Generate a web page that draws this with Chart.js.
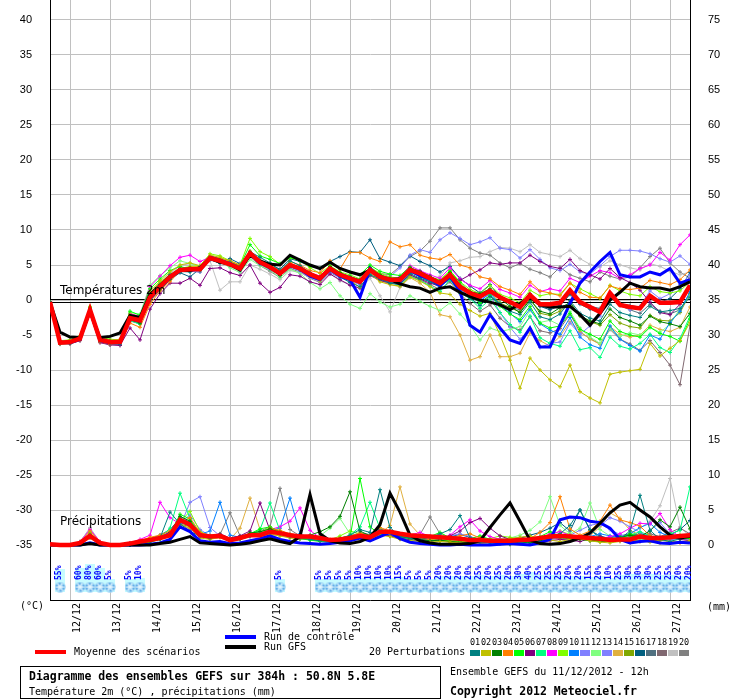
<!DOCTYPE html>
<html lang="fr">
<head>
<meta charset="UTF-8">
<title>Diagramme des ensembles GEFS</title>
<script src="https://cdn.jsdelivr.net/npm/chart.js"></script>
<style>
  html, body { margin: 0; padding: 0; background: #fff; }
  canvas { display: block; }
</style>
</head>
<body>
<canvas id="gefsChart" width="740" height="700"></canvas>
<script>
// Echéances en heures depuis le run du 11/12/2012 12h
var heures = [0,6,12,18,24,30,36,42,48,54,60,66,72,78,84,90,96,102,108,114,120,126,132,138,144,150,156,162,168,174,180,186,192,198,204,210,216,222,228,234,240,246,252,258,264,270,276,282,288,294,300,306,312,318,324,330,336,342,348,354,360,366,372,378,384];

// Jours (00h) et leurs étiquettes
var joursHeures = [12,36,60,84,108,132,156,180,204,228,252,276,300,324,348,372];
var joursLabels = ['12/12','13/12','14/12','15/12','16/12','17/12','18/12','19/12','20/12','21/12','22/12','23/12','24/12','25/12','26/12','27/12'];

// Graduations
var ticksTemp = [-35,-30,-25,-20,-15,-10,-5,0,5,10,15,20,25,30,35,40];
var ticksPrecip = [0,5,10,15,20,25,30,35,40,45,50,55,60,65,70,75];

// Probabilité de neige (%)
var probaNeige = [null,55,null,60,80,60,5,null,5,10, null,null,null,null,null,null,null,null,null,null,
  null,null,null,5,null,null,null,5,5,5, 5,10,10,10,10,15,5,5,5,20,
  20,20,20,25,20,25,20,30,40,25, 25,25,20,20,15,20,10,25,30,30, 30,25,25,20,20];

// Moyenne des scénarios
var moyTemp = [-0.3,-6.1,-6.0,-5.5,-1.4,-5.7,-6.0,-6.0,-2.6,-2.9,
  0.4,1.9,3.3,4.3,4.4,4.4,6.0,5.6,5.1,4.5,6.7,5.4,4.7,3.8,5.0,
  4.5,3.7,3.1,4.5,3.6,3.1,2.6,4.3,3.3,2.9,2.9,4.3,3.8,3.1,2.4,3.6,
  1.9,1.0,0.5,1.3,0.4,-0.3,-1.0,0.7,-0.6,-0.6,-0.4,1.4,-0.3,-1.0,-1.7,1.0,-0.7,-1.0,-1.2,0.6,-0.4,-0.4,-0.3,2.1];
var moyPrecip = [0.1,0,0,0.3,1.3,0.3,0,0,0.2,0.5,
  0.7,1.0,1.4,3.6,2.9,1.4,1.2,1.3,0.7,1.0,1.4,1.4,1.9,1.7,1.4,
  1.2,1.2,1.0,0.7,0.8,1.0,1.3,1.1,1.9,1.9,1.6,1.4,1.3,1.2,1.1,1.0,
  0.9,0.7,0.7,0.6,0.6,0.6,0.7,0.8,1.0,1.2,1.3,1.2,1.1,1.0,0.9,0.7,0.8,0.8,1.2,1.0,1.0,1.1,1.3,1.4];

// Run de contrôle
var ctrlTemp = [-0.3,-6.0,-6.1,-5.6,-1.5,-5.8,-6.1,-6.1,-2.7,-3.0,
  0.3,1.8,3.2,4.2,4.3,4.5,6.1,5.7,5.2,4.4,6.6,5.3,4.6,3.7,4.9,
  4.4,3.4,2.9,4.4,3.4,2.9,0.4,4.5,3.2,2.8,2.7,4.2,3.5,3.0,2.1,3.4,
  1.2,-3.6,-4.6,-2.1,-4.0,-5.7,-6.2,-4.0,-6.7,-6.7,-3.6,-0.5,2.4,4.0,5.5,6.8,3.6,3.3,3.3,4.0,3.6,4.5,2.4,2.9];
var ctrlPrecip = [0,0,0,0,0.3,0,0,0,0,0,
  0.1,0.3,0.8,2.6,1.9,0.6,0.4,0.5,0.2,0.3,0.6,0.9,1.3,0.8,0.5,
  0.3,0.2,0.1,0.2,0.4,0.6,1.0,0.6,1.2,1.8,0.9,0.4,0.2,0.1,0.0,0.0,
  0.1,0.0,0.0,0.0,0.1,0.2,0.1,0.0,0.3,0.8,3.6,4.0,3.9,3.4,3.2,2.4,0.8,0.3,0.5,0.6,0.3,0.2,0.4,0.3];

// Run GFS
var gfsTemp = [-0.3,-4.6,-5.3,-5.4,-1.6,-5.4,-5.2,-4.7,-2.2,-2.5,
  0.8,2.1,3.4,4.2,4.2,4.6,6.0,5.4,5.1,4.3,6.4,5.6,5.1,5.0,6.4,
  5.7,5.0,4.5,5.4,4.5,4.0,3.6,4.3,3.3,2.9,2.3,1.9,1.7,1.1,1.7,1.9,
  1.1,0.5,0.0,-0.3,-0.7,-1.4,-0.5,0.4,-0.7,-1.0,-1.0,-0.9,-2.1,-3.6,-1.9,0.0,1.1,2.4,1.9,1.7,1.7,1.4,1.9,2.6];
var gfsPrecip = [0,0,0,0,0.2,0,0,0,0,0,
  0,0.2,0.4,0.8,1.2,0.3,0.2,0.1,0,0.1,0.3,0.6,0.9,0.5,0.2,
  1.2,7.2,1.6,0.6,0.3,0.2,0.5,1.1,2.9,7.4,4.7,1.4,0.6,0.3,0.1,0.1,
  0.1,0.2,0.6,2.5,4.3,6.0,3.4,0.7,0.2,0.1,0.2,0.5,1.0,1.7,3.1,4.6,5.7,6.1,5.0,4.0,2.6,1.4,1.0,1.2];

// 20 perturbations : température 2m
var t01 = [-0.3,-6.2,-6.1,-5.4,-1.2,-5.8,-6.2,-6.3,-2.4,-3.0, 0.8,2.2,3.6,4.1,4.0,4.7,5.8,5.2,5.4,4.8,6.9,6.1,5.3,4.2,5.6, 4.9,3.9,3.0,4.2,3.3,2.5,1.9,3.6,3.0,2.4,2.2,3.8,3.1,2.6,2.0,3.1, 1.2,0.3,-0.8,0.5,-0.5,-1.6,-2.1,-0.3,-2.4,-2.8,-2.0,-0.1,-1.9,-2.6,-3.0,-0.6,-1.8,-2.2,-2.5,-0.9,-1.7,-1.5,-1.2,0.4];
var t02 = [-0.3,-5.9,-5.8,-5.2,-1.6,-5.5,-5.9,-5.6,-2.1,-2.5, 1.2,2.7,4.0,5.0,5.3,4.9,6.4,6.1,5.5,4.8,7.0,5.7,5.0,4.1,5.3, 4.6,3.4,2.7,4.3,3.5,2.8,1.8,3.7,2.6,2.2,2.0,3.3,2.7,1.9,1.0,0.8, -0.6,-1.5,-2.3,-1.9,-5.0,-8.6,-12.6,-8.3,-10.0,-11.4,-12.4,-9.3,-13.1,-14.0,-14.7,-10.6,-10.3,-10.1,-9.9,-6.2,-8.0,-6.9,-5.8,-3.2];
var t03 = [-0.3,-6.0,-6.1,-5.6,-1.5,-5.6,-5.9,-6.1,-2.8,-3.3, 0.1,1.6,3.0,4.5,4.6,4.2,5.9,5.8,5.0,4.4,6.5,5.2,4.5,3.5,4.8, 4.3,3.5,3.3,4.8,3.9,3.3,2.9,4.6,3.6,3.1,3.2,4.6,4.1,3.4,2.7,3.9, 2.1,1.2,0.9,1.6,0.2,-0.9,-1.8,0.0,-1.6,-2.0,-1.1,-0.4,-2.2,-3.0,-3.4,-1.3,-2.5,-3.0,-3.6,-2.3,-3.1,-3.4,-3.8,-1.9];
var t04 = [-0.3,-6.3,-6.2,-5.7,-1.7,-6.0,-6.3,-6.2,-3.3,-3.9, -0.6,1.3,2.6,4.2,4.7,4.8,6.3,6.0,5.6,5.0,6.8,5.6,5.0,4.2,5.5, 5.0,4.2,3.9,5.6,4.4,6.8,6.8,6.0,5.5,8.3,7.6,7.9,6.4,6.0,5.8,6.5, 5.0,4.6,3.3,3.0,1.9,1.4,0.8,2.6,1.3,1.0,0.6,2.4,1.1,0.4,0.3,2.0,1.6,1.5,1.7,2.8,2.5,2.2,2.9,4.3];
var t05 = [-0.3,-6.1,-5.9,-5.3,-1.1,-5.5,-5.8,-5.9,-1.6,-2.2, 1.6,3.0,4.2,4.8,4.4,4.6,6.2,5.9,5.3,4.9,7.9,6.3,5.8,5.2,6.1, 5.6,4.9,4.5,5.3,4.4,4.0,3.6,5.0,4.1,3.7,3.5,4.7,3.8,3.0,2.6,4.1, 2.5,1.1,-0.5,0.7,-0.9,-2.0,-2.8,-0.9,-3.3,-4.0,-3.7,-1.9,-4.2,-4.9,-5.6,-3.0,-4.5,-5.0,-5.3,-3.9,-4.8,-5.2,-5.9,-2.7];
var t06 = [-0.3,-6.0,-6.2,-5.8,-2.0,-6.1,-6.4,-6.5,-4.0,-5.7, -1.3,0.9,2.4,2.4,3.1,2.1,4.5,4.6,3.9,3.5,5.0,2.4,1.1,1.8,3.6, 3.4,2.6,2.2,3.7,2.9,2.1,1.7,3.5,2.8,2.4,2.3,3.6,3.0,2.4,2.0,3.2, 2.8,3.6,4.3,5.3,5.1,5.3,5.3,6.4,5.5,4.8,4.5,5.8,4.2,3.6,3.0,4.5,3.2,2.5,1.4,-0.3,-1.8,-2.1,-0.6,1.9];
var t07 = [-0.3,-6.2,-5.9,-5.5,-1.3,-5.9,-6.1,-6.0,-2.9,-3.5, 0.2,1.8,3.6,4.6,4.5,4.3,6.1,5.5,5.0,4.3,6.6,5.5,4.8,3.9,5.1, 4.4,3.6,2.9,4.4,3.6,3.4,2.8,4.2,3.0,2.5,2.1,3.4,2.8,2.0,1.2,2.9, 1.0,0.2,-1.2,0.1,-1.8,-3.5,-4.6,-2.3,-5.4,-6.2,-6.6,-4.4,-7.1,-6.8,-8.2,-5.3,-6.6,-7.0,-6.2,-4.9,-6.8,-7.5,-5.5,-2.3];
var t08 = [-0.3,-6.1,-6.0,-5.4,-1.3,-5.6,-5.8,-5.8,-2.0,-2.3, 1.9,3.4,4.9,6.1,6.4,5.5,6.1,5.7,5.2,4.6,6.8,5.6,4.9,3.9,5.2, 4.6,3.9,3.4,4.5,3.5,3.2,2.7,4.0,3.1,2.9,3.3,4.9,4.2,3.6,3.1,4.6, 3.0,2.1,1.6,2.8,1.5,1.0,0.4,2.1,1.2,1.6,1.3,3.1,2.5,3.4,4.2,3.9,3.1,3.6,4.5,5.0,6.8,5.7,7.9,9.3];
var t09 = [-0.3,-5.8,-5.7,-5.1,-0.9,-5.3,-5.6,-5.7,-1.9,-2.4, 0.9,2.6,3.5,4.5,4.8,4.9,6.6,6.3,5.6,5.0,8.8,6.9,6.2,5.1,6.0, 5.7,4.6,3.8,4.9,4.0,3.6,3.0,4.7,3.8,3.3,3.1,4.5,3.9,3.3,2.9,4.2, 2.6,1.5,0.9,2.1,0.8,0.3,-0.4,1.4,0.6,0.9,0.8,2.4,1.6,0.9,0.2,2.1,1.3,0.8,0.6,1.9,1.2,1.0,1.3,2.6];
var t10 = [-0.3,-6.0,-6.1,-5.6,-1.4,-5.8,-6.0,-6.2,-2.7,-3.0, 0.4,2.0,3.2,4.4,4.6,4.6,6.0,5.6,5.2,4.7,6.6,5.3,4.6,3.6,4.9, 4.5,3.6,3.2,4.4,3.5,2.9,2.4,4.0,3.1,2.7,2.6,4.0,3.4,2.6,1.8,3.1, 1.5,0.5,-0.2,1.0,-0.7,-1.9,-3.1,-1.3,-3.4,-4.3,-4.9,-2.5,-5.3,-6.4,-6.9,-3.7,-5.6,-6.5,-7.3,-5.0,-5.6,-3.2,-1.6,1.2];
var t11 = [-0.3,-6.3,-6.2,-5.7,-1.6,-5.9,-6.2,-6.1,-2.8,-3.2, 0.3,1.7,3.1,4.2,4.1,4.0,5.7,5.4,4.9,4.2,6.3,5.1,4.4,3.5,4.7, 4.1,3.4,2.8,4.0,3.2,2.7,2.2,3.9,3.5,3.3,4.6,6.4,7.2,6.8,8.6,9.6, 8.8,7.9,8.3,8.9,7.4,7.2,6.0,7.2,5.8,4.6,4.2,5.1,4.0,3.7,4.9,6.2,7.1,7.1,7.0,6.6,5.9,5.4,6.3,5.1];
var t12 = [-0.3,-6.1,-5.9,-5.4,-1.2,-5.7,-5.9,-5.8,-1.8,-2.0, 2.1,3.5,4.6,5.6,5.2,4.8,6.2,5.5,4.6,3.9,5.8,4.9,4.3,3.2,4.4, 3.8,2.5,1.6,2.5,0.6,-0.6,-1.2,0.9,-0.3,-1.0,-0.6,0.6,-0.2,-0.9,-1.5,-0.4, -2.0,-3.6,-5.7,-4.0,-4.5,-4.2,-3.8,-1.5,-3.2,-2.9,-3.6,-1.6,-4.0,-5.3,-6.2,-4.1,-5.2,-4.7,-5.0,-3.9,-4.6,-3.5,-1.2,0.6];
var t13 = [-0.3,-6.2,-6.0,-5.5,-1.5,-5.7,-6.1,-6.0,-2.5,-2.8, 0.6,2.1,3.4,4.4,4.5,4.3,5.9,5.5,4.9,4.4,6.5,5.3,4.7,3.7,5.0, 4.4,3.8,3.2,4.6,3.9,3.4,2.8,4.4,3.6,3.1,3.0,4.3,3.6,2.9,2.2,3.3, 1.7,0.7,0.1,0.8,-1.8,-3.9,-5.6,-4.1,-6.8,-6.2,-6.0,-3.3,-4.9,-3.7,-2.3,0.9,-0.6,-1.4,-0.9,1.3,0.2,0.9,2.2,3.5];
var t14 = [-0.3,-6.0,-5.9,-5.4,-1.3,-5.6,-5.9,-5.9,-2.5,-2.9, 0.5,2.0,3.4,4.3,4.3,4.5,6.1,5.7,5.1,4.5,6.6,5.4,4.7,3.8,5.0, 4.5,3.7,3.2,4.4,3.4,2.9,2.3,3.9,2.8,2.2,1.9,3.2,2.4,1.1,-2.1,-2.4, -5.0,-8.6,-8.1,-5.0,-8.1,-8.1,-7.6,-4.7,-5.8,-6.6,-5.2,-3.1,-4.5,-5.6,-6.3,-3.8,-4.9,-5.3,-5.0,-3.6,-4.2,-4.5,-3.9,-1.0];
var t15 = [-0.3,-6.1,-6.0,-5.5,-1.4,-5.7,-6.0,-6.0,-2.6,-3.0, 0.3,1.8,3.2,4.2,4.5,4.4,5.8,5.6,5.2,4.6,6.6,5.5,4.8,3.9,5.1, 4.6,3.8,3.3,4.6,3.7,3.3,2.7,4.3,3.4,3.0,2.9,4.2,3.5,2.8,2.3,3.4, 1.9,1.0,0.4,1.1,-0.4,-1.1,-1.7,0.2,-1.9,-2.2,-1.6,-0.3,-2.3,-3.1,-3.6,-2.1,-3.3,-3.8,-4.0,-2.2,-2.9,-3.0,-1.8,0.9];
var t16 = [-0.3,-6.1,-6.1,-5.6,-1.5,-5.9,-6.2,-6.2,-2.9,-3.2, 0.0,1.5,2.9,3.9,3.3,4.5,6.0,5.5,5.9,5.2,6.4,5.5,5.1,4.4,5.9, 5.5,4.8,4.5,5.5,6.2,6.9,6.8,8.6,5.9,5.4,4.9,6.3,5.5,4.9,4.0,4.8, 3.1,2.0,1.0,2.2,0.4,-0.5,-0.9,0.9,-0.9,-1.4,-0.8,0.8,-0.6,-1.3,-1.8,0.3,-0.5,-0.8,-1.0,0.4,-0.3,0.2,1.6,3.9];
var t17 = [-0.3,-6.0,-6.0,-5.5,-1.4,-5.6,-6.0,-6.1,-2.7,-3.1, 0.5,1.9,3.3,4.3,4.3,4.4,6.0,5.6,5.0,4.4,6.6,5.4,4.6,3.8,4.9, 4.4,3.6,3.0,4.3,3.5,3.0,2.6,4.2,3.2,2.8,2.7,4.1,3.3,2.7,2.0,2.9, 1.2,0.4,-0.3,0.6,-0.6,-1.0,-1.4,0.4,-0.9,-1.2,-0.7,0.9,-0.4,-0.9,-1.2,0.5,-0.8,-1.4,-1.9,-0.6,-1.6,-2.0,-1.4,1.0];
var t18 = [-0.3,-6.2,-6.1,-5.6,-1.5,-5.8,-6.1,-6.1,-2.7,-3.1, 0.3,1.8,3.2,4.1,4.2,4.3,5.9,5.4,4.9,4.3,6.5,5.3,4.6,3.7,4.8, 4.3,3.5,2.9,4.2,3.3,2.9,2.3,3.9,2.9,2.5,2.3,3.6,2.9,2.2,1.5,2.6, 0.9,-0.5,-1.6,-0.7,-2.6,-3.8,-4.3,-2.4,-4.4,-4.7,-4.1,-2.0,-4.6,-5.5,-6.3,-4.2,-5.6,-6.3,-7.2,-5.8,-7.5,-9.3,-12.1,-3.6];
var t19 = [-0.3,-5.9,-5.8,-5.3,-1.2,-5.5,-5.8,-5.7,-2.2,-2.6, 0.9,2.4,3.8,4.9,5.2,4.8,5.6,1.4,2.6,2.6,5.0,4.4,3.7,2.9,4.2, 3.9,3.2,2.6,3.8,2.7,2.3,1.6,3.1,0.6,-1.7,1.8,3.3,3.0,2.8,3.4,5.3, 5.6,6.1,6.2,6.9,7.5,7.4,6.9,7.9,6.8,6.5,6.2,7.1,5.9,5.1,4.7,5.6,5.0,4.6,4.3,5.2,4.8,4.1,3.6,4.0];
var t20 = [-0.3,-6.3,-6.3,-5.8,-1.8,-6.0,-6.4,-6.4,-3.0,-3.4, -0.2,1.4,2.9,4.0,4.1,4.0,5.7,5.4,4.8,4.1,6.2,4.9,4.1,3.2,4.5, 4.0,3.1,2.5,3.9,3.2,2.9,2.5,4.3,3.8,3.6,4.8,6.2,7.0,8.4,10.3,10.3, 8.6,7.4,6.7,6.4,5.3,4.6,5.2,4.4,3.9,3.3,4.7,3.6,3.1,2.6,4.0,3.4,3.0,3.3,4.6,6.2,7.4,5.3,4.0,3.1];

// 20 perturbations : précipitations (mm)
var p01 = [0,0,0,0.2,1.5,0.2,0,0,0,0.3, 0.6,1.0,4.7,3.0,2.0,1.2,1.0,1.4,0.6,0.8,1.2,1.5,2.0,1.6,1.2, 1.0,0.8,0.6,0.5,0.9,1.4,2.2,1.8,7.9,2.5,1.2,1.0,0.8,1.1,1.6,2.2, 4.2,1.0,0.4,0.3,0.2,0.1,0.3,0.6,0.9,1.2,1.6,2.8,5.0,2.2,1.0,0.7,0.9,2.0,7.1,2.1,0.8,0.5,0.9,1.5];
var p02 = [0,0,0,0.3,1.8,0.2,0,0,0.2,0.5, 0.8,1.2,1.6,2.9,2.4,1.0,0.8,1.1,0.6,0.9,1.3,1.2,1.5,1.3,1.0, 0.9,1.0,0.7,0.5,0.6,0.8,1.1,0.9,1.4,1.2,0.8,0.6,0.5,0.4,0.5,0.4, 0.3,0.2,0.2,0.4,0.6,0.9,1.1,1.3,1.0,0.7,0.5,0.8,0.9,0.6,0.4,0.3,0.5,0.7,0.6,0.4,0.3,0.5,0.4,0.6];
var p03 = [0,0,0,0.2,1.1,0.3,0,0,0.1,0.4, 0.5,0.9,1.7,4.1,3.4,1.4,1.1,1.5,0.7,1.1,1.7,1.9,2.3,1.8,1.4, 1.2,1.4,1.9,2.6,4.1,7.6,2.0,1.3,1.6,1.9,1.2,1.0,0.8,0.6,0.7,0.5, 0.4,0.3,0.5,0.4,0.3,0.2,0.4,0.3,0.6,0.9,1.4,1.2,0.8,0.6,0.5,0.7,1.1,1.4,1.2,2.0,3.6,2.6,5.4,2.3];
var p04 = [0,0,0,0.3,2.0,0.4,0,0,0.2,0.6, 1.1,1.4,2.0,3.2,3.9,1.8,1.3,1.2,0.9,1.0,1.5,1.6,2.4,2.1,1.6, 1.4,1.3,1.0,0.8,1.0,1.3,1.7,1.4,2.5,2.0,1.3,1.1,0.9,0.8,0.9,1.1, 1.3,1.6,1.0,0.6,0.3,0.2,0.4,0.9,1.8,3.2,6.9,2.3,1.4,2.0,3.4,5.7,3.6,3.2,2.7,1.3,0.8,0.5,0.3,0.6];
var p05 = [0,0,0,0.2,1.3,0.2,0,0,0,0.2, 0.4,0.8,1.5,4.4,3.7,1.3,0.9,1.3,0.5,0.8,1.6,2.3,2.6,1.9,1.3, 0.9,0.7,0.5,0.4,0.6,1.0,9.5,2.6,1.5,1.7,1.3,0.9,0.8,1.2,1.8,1.0, 0.7,0.9,1.3,0.8,0.5,0.3,0.5,0.9,1.2,1.9,1.2,0.8,1.0,0.7,0.5,0.6,0.9,1.6,1.2,0.8,1.0,1.5,1.1,0.9];
var p06 = [0,0,0,0.3,1.6,0.3,0,0,0.2,0.4, 0.7,1.1,1.8,3.6,3.1,1.7,1.2,1.6,1.0,1.3,2.0,6.0,2.1,1.6,1.4, 1.1,0.9,0.7,0.6,0.8,1.0,1.2,1.0,1.5,1.3,0.9,0.8,0.6,0.5,0.8,1.3, 2.0,3.2,3.8,2.4,1.3,0.8,0.6,0.5,0.4,0.6,0.8,0.7,0.5,0.9,1.2,0.8,0.6,0.4,0.5,0.7,0.9,1.3,0.8,0.6];
var p07 = [0,0,0,0.2,1.4,0.2,0,0,0.1,0.3, 0.6,1.1,2.4,7.4,3.8,1.6,1.0,1.2,0.7,1.0,1.4,2.2,6.0,2.0,1.3, 1.0,0.9,0.8,0.6,0.9,1.4,2.6,6.1,2.4,1.6,1.1,0.8,0.7,0.6,0.9,1.0, 0.8,0.6,0.5,0.4,0.6,0.8,0.5,0.4,0.9,1.3,1.0,0.8,1.2,0.9,0.7,0.8,1.1,1.4,1.9,1.3,1.0,1.6,2.1,8.3];
var p08 = [0,0,0,0.4,2.2,0.5,0,0,0.3,0.8, 1.4,6.1,3.9,3.0,2.2,1.6,1.2,1.4,0.8,1.1,1.5,1.7,2.2,2.6,3.4, 5.3,2.1,1.0,0.7,0.9,1.1,1.5,1.3,2.0,1.6,1.0,1.4,1.8,1.2,0.9,1.4, 2.6,3.6,2.0,1.2,0.8,0.6,0.5,0.8,1.0,1.6,1.9,1.4,1.1,0.8,0.9,1.2,1.6,2.4,3.1,3.0,4.5,2.2,1.1,1.6];
var p09 = [0,0,0,0.2,1.2,0.2,0,0,0.1,0.3, 0.5,0.9,1.6,3.3,4.8,1.9,1.3,1.4,0.8,1.2,1.6,1.8,2.5,1.7,1.2, 1.0,1.1,0.9,0.7,1.3,2.0,1.6,1.1,1.5,1.4,1.0,0.8,0.6,0.7,0.8,0.6, 0.5,0.4,0.6,0.9,1.3,1.1,0.8,0.6,0.9,1.4,2.0,1.5,1.1,0.8,0.6,0.5,0.7,0.9,1.3,1.0,0.8,1.2,1.5,1.0];
var p10 = [0,0,0,0.3,1.5,0.3,0,0,0.1,0.4, 0.6,1.0,1.9,3.9,2.8,1.5,2.0,6.1,1.4,1.1,1.6,1.8,2.1,2.4,6.7, 1.6,1.0,0.8,0.7,0.9,1.2,1.6,1.4,2.1,1.8,1.1,0.9,0.7,0.8,1.1,0.9, 0.7,0.5,0.4,0.5,0.3,0.2,0.3,0.5,0.8,1.1,1.3,1.0,0.8,1.2,1.6,1.3,1.0,1.6,2.5,3.1,1.8,1.2,0.9,1.3];
var p11 = [0,0,0,0.2,1.2,0.2,0,0,0.1,0.3, 0.5,0.9,1.4,2.6,6.1,6.9,2.5,1.3,0.8,0.9,1.3,1.6,1.9,1.5,1.1, 0.9,0.8,0.7,0.6,0.8,1.1,1.5,1.2,1.8,1.6,1.0,0.9,0.8,0.7,1.0,1.3, 1.6,1.2,0.8,0.6,0.5,0.4,0.6,0.8,0.7,1.0,1.3,1.0,0.8,1.6,2.8,3.9,3.4,2.6,1.8,1.2,0.9,0.7,1.0,1.2];
var p12 = [0,0,0,0.3,1.3,0.2,0,0,0.1,0.5, 0.8,1.3,2.1,3.4,2.9,1.4,1.1,1.5,0.8,1.0,1.7,1.9,2.4,1.7,1.3, 1.0,0.9,1.3,2.4,3.8,1.6,1.1,0.9,1.4,1.3,0.9,0.7,0.6,0.5,0.6,0.8, 0.6,0.5,0.4,0.6,0.8,1.0,1.4,2.1,3.3,6.9,2.8,1.6,2.4,6.0,2.2,1.3,0.9,0.7,0.8,1.1,0.9,0.6,0.8,1.0];
var p13 = [0,0,0,0.3,1.6,0.3,0,0,0.2,0.4, 0.7,1.2,2.0,3.1,4.3,2.2,1.3,1.2,0.9,1.1,1.4,1.5,2.0,1.8,1.5, 1.3,1.1,0.8,0.6,0.7,0.9,1.2,1.0,1.4,1.5,1.1,0.9,0.8,0.6,0.7,0.9, 0.8,0.6,0.5,0.7,0.9,0.7,0.5,0.4,0.6,0.8,1.1,1.4,2.1,2.8,3.1,2.2,1.5,1.0,1.2,2.1,3.2,1.6,0.9,0.7];
var p14 = [0,0,0,0.3,1.4,0.3,0,0,0.1,0.4, 0.6,1.0,1.8,3.5,3.0,1.5,1.1,1.2,0.8,2.4,6.7,2.2,1.6,1.3,1.1, 0.9,0.8,0.6,0.5,0.7,0.9,1.3,1.1,1.6,2.8,8.3,3.0,1.4,1.0,0.8,0.6, 0.4,0.3,0.2,0.3,0.2,0.1,0.2,0.3,0.5,0.8,1.2,1.0,0.9,1.3,2.6,4.6,3.8,2.1,1.4,1.0,0.8,1.1,0.9,0.7];
var p15 = [0,0,0,0.2,1.0,0.2,0,0,0.1,0.3, 0.5,0.8,1.4,3.0,2.6,1.2,0.9,1.1,0.6,0.9,1.3,1.5,1.8,1.5,1.1, 0.9,0.8,0.7,0.5,0.7,0.9,1.2,1.0,1.5,1.3,0.9,0.7,0.6,0.5,0.6,0.5, 0.4,0.3,0.4,0.5,0.6,0.5,0.4,0.6,0.8,1.0,1.3,1.1,0.9,0.7,0.6,0.8,1.0,1.2,0.9,0.7,0.6,0.8,1.0,0.8];
var p16 = [0,0,0,0.2,1.3,0.3,0,0,0.2,0.5, 0.9,1.4,2.2,3.8,3.3,1.8,1.4,1.3,0.9,1.1,1.5,1.7,2.1,1.9,1.5, 1.2,1.0,0.9,0.7,1.0,1.3,1.7,1.5,2.2,1.9,1.3,1.0,0.9,0.8,1.0,1.2, 1.5,1.1,0.8,0.6,0.5,0.7,1.0,1.4,1.8,2.4,3.2,2.0,5.0,2.1,1.3,0.9,0.8,1.1,1.6,1.3,1.0,1.4,2.2,3.5];
var p17 = [0,0,0,0.3,1.7,0.3,0,0,0.2,0.5, 0.8,1.2,1.9,3.2,2.7,1.3,1.0,1.2,0.7,1.0,1.4,1.6,2.0,1.7,1.3, 1.0,0.9,0.7,0.6,0.8,1.1,1.4,1.2,1.7,1.5,1.0,0.8,0.7,0.6,0.7,0.9, 1.0,0.8,0.6,0.5,0.4,0.5,0.7,0.9,1.1,1.4,1.6,1.2,0.9,0.7,0.8,1.0,1.3,1.6,1.4,1.1,0.9,0.8,1.1,1.3];
var p18 = [0,0,0,0.3,1.5,0.3,0,0,0.1,0.3, 0.6,1.0,1.7,3.4,2.9,1.4,1.1,1.3,0.8,1.1,1.5,1.7,2.2,1.8,1.4, 1.1,1.0,0.8,0.6,0.8,1.0,1.3,1.1,1.6,1.4,1.0,0.9,0.7,0.6,0.7,0.8, 0.7,0.6,0.5,0.6,0.7,0.9,1.1,0.9,0.7,0.8,1.0,1.3,1.1,0.9,0.7,0.6,0.8,1.0,1.3,1.6,1.2,1.8,2.4,1.6];
var p19 = [0,0,0,0.4,2.5,0.4,0,0,0.2,0.5, 0.7,1.1,1.8,3.3,2.8,1.5,1.1,1.3,0.7,1.0,1.4,1.6,2.1,1.6,1.2, 1.0,0.9,0.7,0.5,0.7,0.9,1.2,1.0,1.5,1.3,0.9,0.8,0.6,0.5,0.6,0.7, 0.6,0.5,0.4,0.5,0.7,0.8,0.6,0.5,0.8,1.2,1.5,1.2,1.0,0.8,0.7,0.9,1.2,1.6,2.4,3.4,5.6,9.5,2.6,1.2];
var p20 = [0,0,0,0.5,2.3,0.4,0,0,0.2,0.6, 0.9,1.3,2.0,3.6,3.1,1.6,1.2,1.5,4.6,1.3,1.6,2.0,2.6,8.1,2.2, 1.3,1.0,0.8,0.7,0.9,1.2,1.5,1.3,1.8,1.6,1.2,1.0,1.5,4.0,1.6,1.0, 0.6,0.5,0.4,0.5,0.6,0.7,0.8,1.0,0.9,1.1,1.4,1.2,1.0,0.8,0.9,1.1,1.4,1.3,1.0,0.9,1.2,1.5,1.3,1.1];

var pertTemp = [t01,t02,t03,t04,t05,t06,t07,t08,t09,t10,t11,t12,t13,t14,t15,t16,t17,t18,t19,t20];
var pertPrecip = [p01,p02,p03,p04,p05,p06,p07,p08,p09,p10,p11,p12,p13,p14,p15,p16,p17,p18,p19,p20];

// Couleurs des perturbations 01..20
var couleurs = ['#008080','#c0c000','#008000','#ff8000','#00ff00','#800080','#00ff80','#ff00ff','#80ff00','#0080ff',
  '#8080ff','#80ff80','#8080ff','#e0b040','#80a800','#005f80','#507080','#806870','#c0c0c0','#808080'];

// Echelles : 7 px par degré / par mm, 0 mm aligné sur -35 °C
var PX_UNITE = 7;
var Y_MIN = -300 / PX_UNITE, Y_MAX = 300 / PX_UNITE;
var Y2_MIN = -55 / PX_UNITE, Y2_MAX = 545 / PX_UNITE;
var NEIGE_Y = -41;      // rangée des flocons
var BANDE_BAS = -41.7;  // bas de la bande cyan

function serie(data, couleur, epaisseur, axe, ordre, marque) {
  return {
    type: 'line',
    data: data,
    yAxisID: axe,
    borderColor: couleur,
    backgroundColor: couleur,
    borderWidth: epaisseur,
    pointStyle: 'cross',
    pointRadius: marque ? 2 : 0,
    pointBorderWidth: 1,
    pointBorderColor: couleur,
    tension: 0,
    fill: false,
    order: ordre
  };
}

var datasets = [];
datasets.push(serie(moyTemp, '#ff0000', 4.5, 'y', 1, false));
datasets.push(serie(moyPrecip, '#ff0000', 4.5, 'y2', 1, false));
datasets.push(serie(gfsTemp, '#000000', 3, 'y', 2, false));
datasets.push(serie(gfsPrecip, '#000000', 3, 'y2', 2, false));
datasets.push(serie(ctrlTemp, '#0000ff', 3, 'y', 3, false));
datasets.push(serie(ctrlPrecip, '#0000ff', 3, 'y2', 3, false));
for (var k = 0; k < pertTemp.length; k++) {
  datasets.push(serie(pertTemp[k], couleurs[k], 1, 'y', 10 + k, true));
  datasets.push(serie(pertPrecip[k], couleurs[k], 1, 'y2', 10 + k, true));
}

// Icône de flocon
function iconeFlocon() {
  var c = document.createElement('canvas');
  c.width = 11; c.height = 11;
  var g = c.getContext('2d');
  g.fillStyle = '#9ed3f5';
  g.beginPath(); g.arc(5.5, 5.5, 5.2, 0, Math.PI * 2); g.fill();
  g.strokeStyle = '#f2faff'; g.lineWidth = 1;
  for (var a = 0; a < 3; a++) {
    var ang = a * Math.PI / 3;
    g.beginPath();
    g.moveTo(5.5 - 4 * Math.cos(ang), 5.5 - 4 * Math.sin(ang));
    g.lineTo(5.5 + 4 * Math.cos(ang), 5.5 + 4 * Math.sin(ang));
    g.stroke();
  }
  g.fillStyle = '#3f94e0';
  for (var b = 0; b < 6; b++) {
    var an = b * Math.PI / 3 + Math.PI / 6;
    g.fillRect(Math.round(5.5 + 3.6 * Math.cos(an)) - 0.5, Math.round(5.5 + 3.6 * Math.sin(an)) - 0.5, 1.5, 1.5);
  }
  return c;
}

// Bande cyan : un rectangle par échéance, hauteur selon la probabilité
function iconeBande(p) {
  var c = document.createElement('canvas');
  c.width = 10; c.height = Math.round(12 + 0.2 * p);
  var g = c.getContext('2d');
  g.fillStyle = '#c6fbff';
  g.fillRect(0, 0, c.width, c.height);
  return c;
}

var bandeNeige = [], bandeImages = [], flocons = [];
probaNeige.forEach(function (p, i) {
  if (p === null) return;
  var img = iconeBande(p);
  bandeImages.push(img);
  bandeNeige.push({ x: heures[i], y: BANDE_BAS + img.height / PX_UNITE / 2 });
  flocons.push({ x: heures[i], y: NEIGE_Y });
});
var flocon = iconeFlocon();

datasets.push({
  type: 'scatter',
  data: bandeNeige,
  yAxisID: 'y',
  showLine: false,
  pointStyle: function (c) { return bandeImages[c.dataIndex]; },
  pointRadius: 5,
  order: 100
});
datasets.push({
  type: 'scatter',
  data: flocons,
  yAxisID: 'y',
  showLine: false,
  pointStyle: flocon,
  pointRadius: 5,
  order: 99
});

function sansMarges(scale) {
  scale.paddingTop = 0; scale.paddingBottom = 0;
  scale.paddingLeft = 0; scale.paddingRight = 0;
}

// Textes, légendes et cadre
var decor = {
  id: 'decor',
  beforeDraw: function (chart) {
    var ctx = chart.ctx;
    ctx.save();
    ctx.fillStyle = '#ffffff';
    ctx.fillRect(0, 0, chart.width, chart.height);
    ctx.restore();
  },
  beforeDatasetsDraw: function (chart) {
    var ctx = chart.ctx, a = chart.chartArea;
    var y0 = Math.round(chart.scales.y.getPixelForValue(0));
    ctx.save();
    ctx.strokeStyle = '#000';
    ctx.lineWidth = 1;
    ctx.beginPath();
    ctx.moveTo(a.left, y0 - 0.5); ctx.lineTo(a.right, y0 - 0.5);
    ctx.moveTo(a.left, y0 + 2.5); ctx.lineTo(a.right, y0 + 2.5);
    ctx.stroke();
    ctx.restore();
  },
  afterDatasetsDraw: function (chart) {
    var ctx = chart.ctx, xs = chart.scales.x;
    ctx.save();
    ctx.fillStyle = '#0000ff';
    ctx.font = 'bold 8px "DejaVu Sans Mono"';
    ctx.textAlign = 'left';
    ctx.textBaseline = 'middle';
    probaNeige.forEach(function (p, i) {
      if (p === null) return;
      ctx.save();
      ctx.translate(xs.getPixelForValue(heures[i]) - 1, 580);
      ctx.rotate(-Math.PI / 2);
      ctx.fillText(p + '%', 0, 0);
      ctx.restore();
    });
    ctx.fillStyle = '#000';
    ctx.font = '12px "DejaVu Sans"';
    ctx.textBaseline = 'alphabetic';
    ctx.fillText('Températures 2m', 60, 294);
    ctx.fillText('Précipitations', 60, 525);
    ctx.restore();
  },
  afterDraw: function (chart) {
    var ctx = chart.ctx, xs = chart.scales.x;
    ctx.save();
    ctx.fillStyle = '#000';
    // dates
    ctx.font = '10px "DejaVu Sans Mono"';
    ctx.textAlign = 'right';
    ctx.textBaseline = 'middle';
    joursHeures.forEach(function (h, i) {
      ctx.save();
      ctx.translate(xs.getPixelForValue(h) + 7, 603);
      ctx.rotate(-Math.PI / 2);
      ctx.fillText(joursLabels[i], 0, 0);
      ctx.restore();
    });
    ctx.textAlign = 'left';
    ctx.fillText('(°C)', 20, 606);
    ctx.fillText('(mm)', 707, 607);

    // légende des runs
    function trait(x1, x2, y, c) {
      ctx.strokeStyle = c; ctx.lineWidth = 4;
      ctx.beginPath(); ctx.moveTo(x1, y); ctx.lineTo(x2, y); ctx.stroke();
    }
    trait(225, 256, 637, '#0000ff');
    trait(225, 256, 647, '#000000');
    trait(35, 66, 652, '#ff0000');
    ctx.fillText('Run de contrôle', 264, 637);
    ctx.fillText('Run GFS', 264, 647);
    ctx.fillText('Moyenne des scénarios', 74, 652);
    ctx.fillText('20 Perturbations', 369, 652);

    // pastilles des perturbations
    ctx.textAlign = 'center';
    ctx.font = '8.5px "DejaVu Sans Mono"';
    couleurs.forEach(function (c, k) {
      var x = 470 + 11 * k;
      ctx.fillStyle = c;
      ctx.fillRect(x, 650, 10, 6);
      ctx.fillStyle = '#000';
      ctx.fillText(('0' + (k + 1)).slice(-2), x + 5, 643);
    });

    // cadre du titre
    ctx.strokeStyle = '#000';
    ctx.lineWidth = 1;
    ctx.strokeRect(20.5, 666.5, 420, 32);
    ctx.textAlign = 'left';
    ctx.font = 'bold 11.5px "DejaVu Sans Mono"';
    ctx.fillText('Diagramme des ensembles GEFS sur 384h : 50.8N 5.8E', 29, 677);
    ctx.font = '10px "DejaVu Sans Mono"';
    ctx.fillText('Température 2m (°C) , précipitations (mm)', 29, 692);
    ctx.fillText('Ensemble GEFS du 11/12/2012 - 12h', 450, 672);
    ctx.font = 'bold 11.5px "DejaVu Sans Mono"';
    ctx.fillText('Copyright 2012 Meteociel.fr', 450, 692);
    ctx.restore();
  }
};

var gefsChart = new Chart(document.getElementById('gefsChart'), {
  type: 'line',
  data: { labels: heures, datasets: datasets },
  options: {
    responsive: false,
    devicePixelRatio: 1,
    animation: false,
    events: [],
    layout: { padding: 0, autoPadding: false },
    plugins: { legend: { display: false }, tooltip: { enabled: false } },
    scales: {
      x: {
        type: 'linear',
        position: 'bottom',
        min: 0,
        max: 384,
        offset: false,
        afterBuildTicks: function (axis) {
          axis.ticks = joursHeures.map(function (h) { return { value: h }; });
        },
        afterFit: function (scale) { scale.height = 100; sansMarges(scale); },
        ticks: { display: false },
        grid: { color: '#c0c0c0', lineWidth: 1, drawTicks: false },
        border: { display: true, color: '#000', width: 1 }
      },
      y: {
        type: 'linear',
        position: 'left',
        min: Y_MIN,
        max: Y_MAX,
        afterBuildTicks: function (axis) {
          axis.ticks = ticksTemp.map(function (v) { return { value: v }; });
        },
        afterFit: function (scale) { scale.width = 50; sansMarges(scale); },
        ticks: {
          padding: 18,
          color: '#000',
          font: { family: 'Liberation Sans', size: 11 },
          callback: function (v) { return String(v); }
        },
        grid: { color: '#c0c0c0', lineWidth: 1, drawTicks: false },
        border: { display: true, color: '#000', width: 1 }
      },
      y2: {
        type: 'linear',
        position: 'right',
        min: Y2_MIN,
        max: Y2_MAX,
        afterBuildTicks: function (axis) {
          axis.ticks = ticksPrecip.map(function (v) { return { value: v }; });
        },
        afterFit: function (scale) { scale.width = 50; sansMarges(scale); },
        ticks: {
          padding: 18,
          color: '#000',
          font: { family: 'Liberation Sans', size: 11 },
          callback: function (v) { return String(v); }
        },
        grid: { display: false, drawTicks: false },
        border: { display: true, color: '#000', width: 1 }
      }
    }
  },
  plugins: [decor]
});
</script>
</body>
</html>
